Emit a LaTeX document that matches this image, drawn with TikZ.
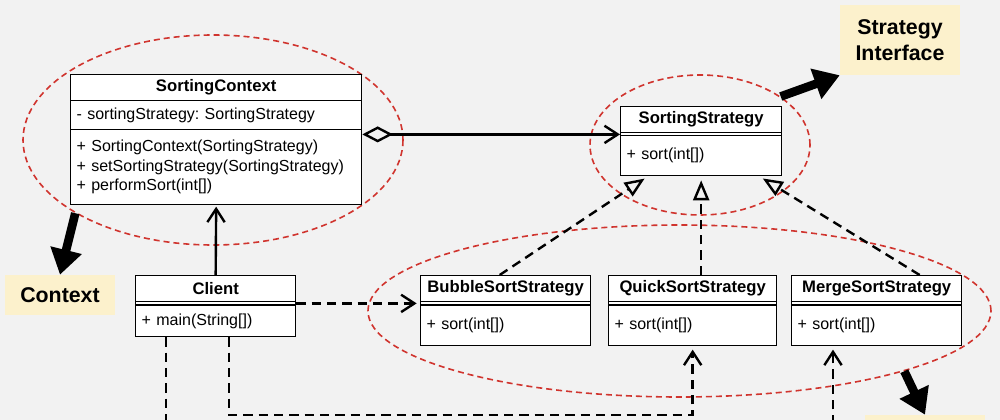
\documentclass[tikz,border=0pt]{standalone}
\usepackage{fontspec}
\setmainfont{Liberation Sans}
\usetikzlibrary{arrows.meta,shapes.geometric}
\definecolor{bggray}{RGB}{242,242,242}
\definecolor{grpred}{RGB}{208,52,46}
\definecolor{notefill}{RGB}{252,241,204}
\frenchspacing
\begin{document}
\begin{tikzpicture}[x=0.75pt, y=-0.75pt,
  cls/.style={draw=black, fill=white, line width=1pt, anchor=north west, inner sep=0pt, font=\fontsize{12}{14.5}\selectfont},
  head/.style={cls, minimum width=#1, minimum height=19.5pt, font=\fontsize{12.5}{14.5}\selectfont\bfseries},
  gap/.style={cls, minimum width=#1, minimum height=2.6pt},
  body/.style={cls, text width=#1, inner xsep=4.5pt, align=left},
  grp/.style={ellipse, draw=grpred, line width=1.2pt, dash pattern=on 4.5pt off 3pt, inner sep=0pt},
  note/.style={fill=notefill, font=\fontsize{16}{20}\selectfont\bfseries, align=center, inner sep=0pt},
  big/.style={line width=6.5pt, -{Triangle[length=19pt, width=23pt]}},
  assoc/.style={line width=1.8pt, -{Straight Barb[length=10pt, width=13pt]}, shorten >=1pt},
  dline/.style={line width=1.8pt, dash pattern=on 7pt off 4.5pt},
  dep/.style={dline, -{Straight Barb[length=10pt, width=13pt]}, shorten >=2.5pt},
  real/.style={dline, -{Triangle[open, length=15pt, width=12pt]}, shorten >=3pt},
  agg/.style={line width=1.8pt, {Diamond[open, length=23pt, width=12pt]}-{Straight Barb[length=10pt, width=13pt]}}]
\useasboundingbox (0,0) rectangle (1000,420);
\clip (0,0) rectangle (1000,420);
\fill[bggray] (0,0) rectangle (1000,420);

\node[grp, minimum width=285pt, minimum height=157.5pt] (ctxgrp) at (213,140) {};
\node[grp, minimum width=165pt, minimum height=105pt] (ssgrp) at (700,145) {};
\node[grp, minimum width=467.25pt, minimum height=129pt] (implgrp) at (679.5,311) {};

\node[head=218.25pt] (ctxh) at (70,74) {SortingContext};
\node[body=209.25pt, minimum height=21.75pt] (ctxa) at (70,100) {- sortingStrategy: SortingStrategy};
\node[body=209.25pt, minimum height=56.25pt] (ctxm) at (70,129) {+ SortingContext(SortingStrategy)\\+ setSortingStrategy(SortingStrategy)\\+ performSort(int[])};

\node[head=120.75pt] (ssh) at (620,106) {SortingStrategy};
\node[gap=120.75pt] (ssa) at (620,132) {};
\node[body=111.75pt, minimum height=30pt] (ssm) at (620,135) {+ sort(int[])};

\node[head=120pt] (clh) at (135,275) {Client};
\node[gap=120pt] (cla) at (135,301) {};
\node[body=111pt, minimum height=23.25pt] (clm) at (135,305) {+ main(String[])};

\node[head=127.5pt] (bubh) at (420,275) {BubbleSortStrategy};
\node[gap=127.5pt] (buba) at (420,301) {};
\node[body=118.5pt, minimum height=30pt] (bubm) at (420,305) {+ sort(int[])};

\node[head=126pt] (qh) at (608,275) {QuickSortStrategy};
\node[gap=126pt] (qa) at (608,301) {};
\node[body=117pt, minimum height=30pt] (qm) at (608,305) {+ sort(int[])};

\node[head=127.5pt] (mh) at (791,275) {MergeSortStrategy};
\node[gap=127.5pt] (ma) at (791,301) {};
\node[body=118.5pt, minimum height=30pt] (mm) at (791,305) {+ sort(int[])};

\node[note, minimum width=90pt, minimum height=52.5pt] (silbl) at (900,40) {Strategy\\Interface};
\node[note, minimum width=82.5pt, minimum height=30pt] (ctxlbl) at (60,295) {Context};
\node[note, minimum width=90pt, minimum height=52.5pt] (impllbl) at (925,450) {};

\coordinate (cut1) at (166,440);
\coordinate (cut2) at (833,440);
\coordinate (bend) at (229,415);

\draw[agg] (ctxm.east |- ssa.west) -- (ssa.west);
\draw[assoc] (clh.north) -- (ctxm.south);
\draw[dep] (cla.east) -- (buba.west);
\draw[real] ([xshift=-4.5pt]bubh.north) -- ([xshift=21pt]ssm.south west);
\draw[real] (qh.north -| ssm.south) -- (ssm.south);
\draw[real] ([xshift=32.25pt]mh.north) -- ([xshift=-17.25pt]ssm.south east);
\draw[dline] (clm.south -| cut1) -- (cut1);
\draw[dep] (clm.south -| bend) -- (bend) -| (qm.south);
\draw[dep] (cut2) -- (mm.south -| cut2);

\draw[big] (ctxgrp.208) -- (ctxlbl.north);
\draw[big] (ssgrp.31) -- (silbl.south west);
\draw[big] (implgrp.345) -- (impllbl.north);
\end{tikzpicture}
\end{document}
